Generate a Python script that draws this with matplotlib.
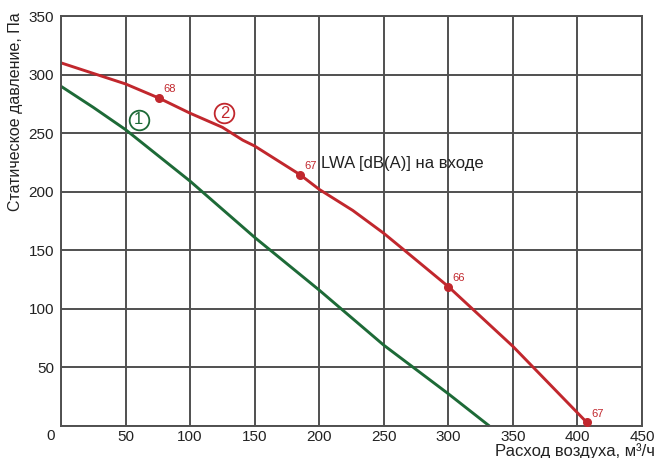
import matplotlib
matplotlib.use("Agg")
import matplotlib.pyplot as plt

plt.rcParams['font.family'] = ['Liberation Sans', 'DejaVu Sans']

# Curve 2 (red)
red_x = [0, 25, 50, 75.7, 100, 125, 140.8, 150, 185.2, 200, 226, 250, 266, 300, 350, 407.3]
red_y = [310, 301, 292, 280, 267, 255, 244, 239, 214.5, 202, 184, 164.5, 150, 119, 68, 3]
# Curve 1 (green)
green_x = [0, 25, 50, 75, 100, 150, 200, 250, 300, 331.8]
green_y = [290, 272, 253, 231, 209, 161, 116, 69, 27.5, 0]
# Noise level points on curve 2
pts_x = [75.7, 185.2, 299.7, 407.3]
pts_y = [280, 214.5, 119, 3]
pts_lbl = ['68', '67', '66', '67']
# Curve labels
curve_lbl = ['1', '2']
curve_lbl_x = [60.3, 126.6]
curve_lbl_y = [261.5, 267.0]

x_ticks = [0, 50, 100, 150, 200, 250, 300, 350, 400, 450]
y_ticks = [0, 50, 100, 150, 200, 250, 300, 350]

RED = '#c1272d'
GREEN = '#1d6a37'
GRID = '#505050'

fig = plt.figure(figsize=(6.57, 4.58), dpi=100)
ax = fig.add_axes([61 / 657, 1 - 426 / 458, (642 - 61) / 657, (426 - 16) / 458])
ax.set_xlim(0, 450)
ax.set_ylim(0, 350)
ax.set_xticks(x_ticks)
ax.set_yticks(y_ticks)
ax.set_xticklabels([''] + [str(v) for v in x_ticks[1:]])
ax.set_yticklabels([''] + [str(v) for v in y_ticks[1:]])
ax.tick_params(length=0, labelsize=11, colors='#222222')
ax.tick_params(axis='x', pad=3)
ax.tick_params(axis='y', pad=5)
ax.grid(True, color=GRID, linewidth=1.4)
ax.set_axisbelow(True)
for s in ax.spines.values():
    s.set_color(GRID)
    s.set_linewidth(1.4)

ax.plot(green_x, green_y, color=GREEN, linewidth=2.1, solid_capstyle='butt', clip_on=False)
ax.plot(red_x, red_y, color=RED, linewidth=2.1, solid_capstyle='butt', clip_on=False)
ax.scatter(pts_x, pts_y, color=RED, s=30, zorder=5, clip_on=False)
for x, y, t in zip(pts_x, pts_y, pts_lbl):
    ax.annotate(t, (x, y), xytext=(3, 4), textcoords='offset points',
                color=RED, fontsize=8)

for t, x, y, c in zip(curve_lbl, curve_lbl_x, curve_lbl_y, [GREEN, RED]):
    ax.scatter([x], [y], s=200, facecolors='white', edgecolors=c, linewidths=1.3, zorder=6)
    ax.text(x, y, t, color=c, fontsize=12, ha='center', va='center', zorder=7)

ax.text(201.5, 224.5, 'LWA [dB(A)] на входе', fontsize=12, color='#222222',
        ha='left', va='center')

fig.text(50.7 / 657, 1 - 436 / 458, '0', fontsize=11, color='#222222', ha='center', va='center')
fig.text(16 / 657, 1 - 112 / 458, 'Статическое давление, Па', rotation=90, fontsize=11.5,
         color='#222222', ha='center', va='center')
fig.text(655 / 657, 1 - 451 / 458, 'Расход воздуха, м³/ч', fontsize=12,
         color='#222222', ha='right', va='center')

fig.savefig('out.png', dpi=100)
